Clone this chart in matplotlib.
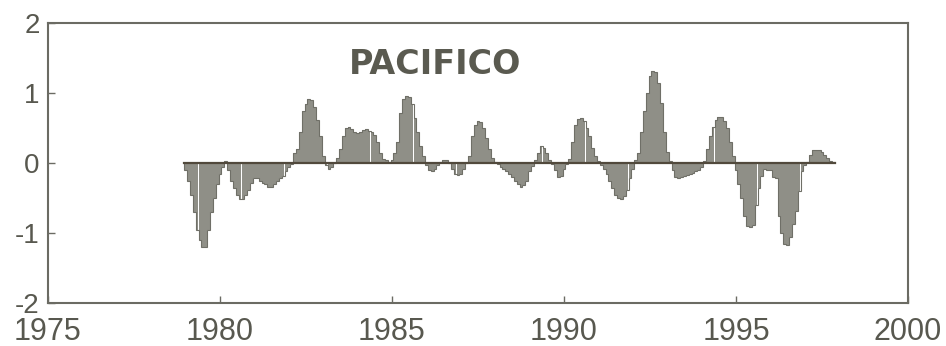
import numpy as np
import matplotlib
matplotlib.use("Agg")
import matplotlib.pyplot as plt

# Monthly index anomalies, Jan 1979 - Nov 1997
anom_1979 = [-0.10, -0.25, -0.45, -0.70, -0.95, -1.10, -1.20, -1.20, -0.95, -0.70, -0.50, -0.30]
anom_1980 = [-0.15, -0.05, 0.03, -0.10, -0.25, -0.35, -0.45, -0.52, -0.52, -0.45, -0.38, -0.28]
anom_1981 = [-0.22, -0.22, -0.25, -0.28, -0.30, -0.34, -0.34, -0.30, -0.25, -0.22, -0.18, -0.12]
anom_1982 = [-0.06, -0.02, 0.15, 0.20, 0.45, 0.75, 0.85, 0.91, 0.90, 0.80, 0.62, 0.38]
anom_1983 = [0.10, -0.03, -0.08, -0.05, 0.00, 0.07, 0.20, 0.38, 0.50, 0.52, 0.48, 0.44]
anom_1984 = [0.43, 0.45, 0.47, 0.48, 0.46, 0.45, 0.40, 0.30, 0.15, 0.06, 0.04, 0.02]
anom_1985 = [0.04, 0.15, 0.30, 0.72, 0.92, 0.96, 0.95, 0.85, 0.65, 0.45, 0.25, 0.10]
anom_1986 = [-0.03, -0.10, -0.12, -0.08, -0.03, 0.02, 0.05, 0.05, 0.00, -0.08, -0.15, -0.17]
anom_1987 = [-0.15, -0.08, 0.00, 0.10, 0.38, 0.55, 0.60, 0.58, 0.50, 0.36, 0.20, 0.07]
anom_1988 = [0.02, -0.02, -0.05, -0.08, -0.12, -0.16, -0.20, -0.25, -0.30, -0.34, -0.32, -0.25]
anom_1989 = [-0.12, -0.04, 0.04, 0.15, 0.24, 0.22, 0.15, 0.05, -0.02, -0.10, -0.20, -0.18]
anom_1990 = [-0.08, -0.02, 0.06, 0.30, 0.55, 0.63, 0.64, 0.60, 0.50, 0.38, 0.22, 0.10]
anom_1991 = [0.03, -0.03, -0.08, -0.15, -0.25, -0.36, -0.45, -0.50, -0.51, -0.47, -0.38, -0.22]
anom_1992 = [-0.08, 0.05, 0.15, 0.45, 0.75, 1.00, 1.25, 1.31, 1.30, 1.15, 0.86, 0.45]
anom_1993 = [0.16, 0.03, -0.10, -0.20, -0.22, -0.20, -0.18, -0.17, -0.15, -0.14, -0.12, -0.10]
anom_1994 = [-0.05, 0.03, 0.20, 0.38, 0.52, 0.62, 0.66, 0.66, 0.60, 0.50, 0.30, 0.10]
anom_1995 = [-0.10, -0.30, -0.50, -0.75, -0.90, -0.92, -0.88, -0.60, -0.35, -0.18, -0.08, -0.10]
anom_1996 = [-0.10, -0.20, -0.22, -0.75, -1.00, -1.15, -1.17, -1.06, -0.87, -0.68, -0.40, -0.12]
anom_1997 = [-0.03, 0.02, 0.12, 0.18, 0.19, 0.18, 0.16, 0.12, 0.07, 0.03, 0.01]

start_year = 1979
x_ticks = [1975, 1980, 1985, 1990, 1995, 2000]
y_ticks = [-2, -1, 0, 1, 2]
title = "PACIFICO"

values = np.concatenate([
    anom_1979, anom_1980, anom_1981, anom_1982, anom_1983, anom_1984, anom_1985,
    anom_1986, anom_1987, anom_1988, anom_1989, anom_1990, anom_1991, anom_1992,
    anom_1993, anom_1994, anom_1995, anom_1996, anom_1997,
])
dt = 1.0 / 12.0
t = start_year + np.arange(len(values)) * dt
edges = np.concatenate([t - dt / 2, [t[-1] + dt / 2]])

text_col = "#58584f"
axis_col = "#6b6b63"

fig = plt.figure(figsize=(9.46, 3.46), dpi=100)
ax = fig.add_axes([48 / 946, 1 - 303 / 346, 860 / 946, 280 / 346])

ax.bar(t, values, width=dt, color="#8f8f87", linewidth=0, zorder=2)
ax.stairs(values, edges, baseline=0, fill=False, color="#6f6f67", lw=0.8, zorder=3)
ax.plot([edges[0], edges[-1]], [0, 0], color="#51493c", lw=1.6, zorder=4)

ax.set_xlim(x_ticks[0], x_ticks[-1])
ax.set_ylim(y_ticks[0], y_ticks[-1])
ax.set_xticks(x_ticks)
ax.set_yticks(y_ticks)
ax.set_xticklabels([str(v) for v in x_ticks], fontfamily="Liberation Sans", fontsize=22, color=text_col)
ax.set_yticklabels([str(v) for v in y_ticks], fontfamily="Liberation Sans", fontsize=20, color=text_col)
ax.tick_params(axis="both", direction="in", length=5, width=1.0, color=axis_col)
ax.tick_params(axis="x", pad=10)
ax.tick_params(axis="y", pad=6)
for s in ax.spines.values():
    s.set_color(axis_col)
    s.set_linewidth(1.5)

ax.text(1986.25, 1.40, title, ha="center", va="center", fontfamily="DejaVu Sans",
        fontweight="bold", fontsize=24, color="#5a5a50")

fig.savefig("out.png", dpi=100, facecolor="white")
